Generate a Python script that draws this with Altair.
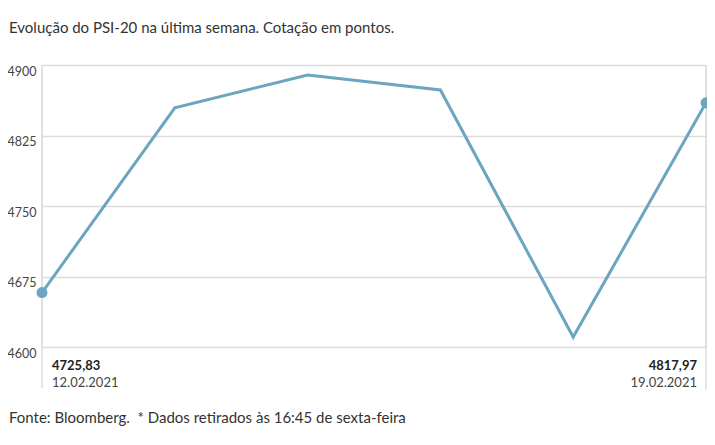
import altair as alt
import pandas as pd

# Data
dates = ["12.02.2021", "15.02.2021", "16.02.2021", "17.02.2021", "18.02.2021", "19.02.2021"]
values = [4657.9, 4854.5, 4889.3, 4873.4, 4610.6, 4859.8]
y_ticks = [4600, 4675, 4750, 4825, 4900]

end_dates = ["12.02.2021", "19.02.2021"]
end_labels = ["4725,83", "4817,97"]

title_text = "Evolução do PSI-20 na última semana. Cotação em pontos."
footer_text = "Fonte: Bloomberg.\u00a0 * Dados retirados às 16:45 de sexta-feira"

FONT = "Lato"
LINE = "#6ca5bf"
GRID = "#dcdcdc"

df = pd.DataFrame({"date": dates, "value": values})
ends = pd.DataFrame({"date": end_dates, "label": end_labels,
                     "value": [values[0], values[-1]]})

PAD_L = 34
W, H = 664, 282

x_enc = alt.X("date:N", sort=dates, axis=None,
              scale=alt.Scale(type="point", padding=0))
y_scale = alt.Scale(domain=[4600, 4900], nice=False, zero=False)

base = alt.Chart(df)

line = base.mark_line(color=LINE, strokeWidth=3).encode(
    x=x_enc,
    y=alt.Y("value:Q", scale=y_scale, title=None,
            axis=alt.Axis(values=y_ticks, grid=True, gridColor=GRID, gridWidth=1.5,
                          domain=False, ticks=False, labelPadding=6,
                          labelFontSize=12.5, labelColor="#444", labelFont=FONT,
                          labelBaseline="top", format="d")),
)

pts = alt.Chart(ends).mark_circle(color=LINE, size=120, opacity=1).encode(
    x=x_enc, y=alt.Y("value:Q", scale=y_scale)
)

vlines = alt.Chart(pd.DataFrame({"k": [0]})).mark_rule(color=GRID, strokeWidth=1.5).encode(
    x=alt.value(0), y=alt.value(0), y2=alt.value(323)
)
vlines_r = alt.Chart(pd.DataFrame({"k": [0]})).mark_rule(color=GRID, strokeWidth=1.5).encode(
    x=alt.value(W), y=alt.value(0), y2=alt.value(325)
)

first = ends.iloc[[0]]
last = ends.iloc[[1]]

lab_first_v = alt.Chart(first).mark_text(align="left", baseline="middle", dx=10,
                                         font=FONT, fontSize=13, fontWeight="bold",
                                         color="#222").encode(
    x=x_enc, y=alt.value(301), text="label:N")
lab_first_d = alt.Chart(first).mark_text(align="left", baseline="middle", dx=10,
                                         font=FONT, fontSize=13, color="#444").encode(
    x=x_enc, y=alt.value(318), text="date:N")
lab_last_v = alt.Chart(last).mark_text(align="right", baseline="middle", dx=-9,
                                       font=FONT, fontSize=13, fontWeight="bold",
                                       color="#222").encode(
    x=x_enc, y=alt.value(301), text="label:N")
lab_last_d = alt.Chart(last).mark_text(align="right", baseline="middle", dx=-9,
                                       font=FONT, fontSize=13, color="#444").encode(
    x=x_enc, y=alt.value(318), text="date:N")

title = alt.Chart(pd.DataFrame({"t": [title_text]})).mark_text(
    align="left", baseline="middle", font=FONT, fontSize=15, color="#333").encode(
    x=alt.value(-PAD_L + 1), y=alt.value(-37), text="t:N")
footer = alt.Chart(pd.DataFrame({"t": [footer_text]})).mark_text(
    align="left", baseline="middle", font=FONT, fontSize=15, color="#333").encode(
    x=alt.value(-PAD_L + 1), y=alt.value(353), text="t:N")

chart = alt.layer(
    vlines, vlines_r, line, pts,
    lab_first_v, lab_first_d, lab_last_v, lab_last_d,
    title, footer,
).properties(
    width=W, height=H,
    autosize=alt.AutoSizeParams(type="none"),
    padding={"left": PAD_L, "top": 57, "right": 1, "bottom": 98},
).configure_view(stroke=None).configure(background="white")

chart.save("out.html", embed_options={"renderer": "svg", "actions": False})
